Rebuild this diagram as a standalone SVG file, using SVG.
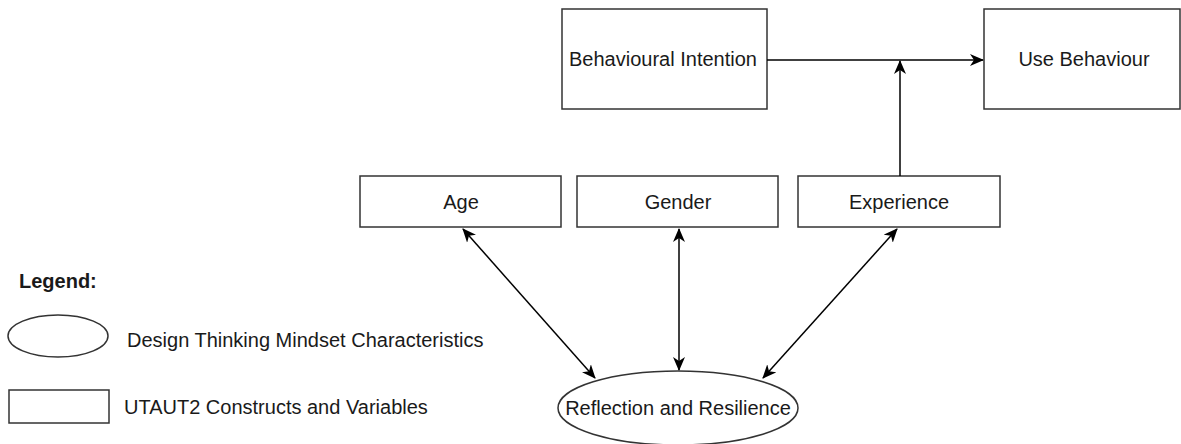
<svg xmlns="http://www.w3.org/2000/svg" width="1181" height="444" viewBox="0 0 1181 444">
<style>
.box{fill:#fff;stroke:#333;stroke-width:1.5}
.t{font-family:"Liberation Sans",Arial,sans-serif;font-size:20px;fill:#1a1a1a;text-anchor:middle;dominant-baseline:central}
.tl{font-family:"Liberation Sans",Arial,sans-serif;font-size:20px;fill:#1a1a1a}
.c{stroke:#000;stroke-width:1.5;fill:none}
</style>
<defs>
<marker id="ah2" viewBox="0 0 14 14" refX="13" refY="7" markerWidth="14" markerHeight="14" markerUnits="userSpaceOnUse" orient="auto-start-reverse">
<path d="M0,1 L14,7 L0,13 L4,7 Z" fill="#000"/>
</marker>
</defs>
<rect width="1181" height="444" fill="#fff"/>
<g id="bi"><rect class="box" x="562" y="9" width="205" height="100"/><text class="t" x="663" y="59">Behavioural Intention</text></g>
<g id="ub"><rect class="box" x="984" y="9" width="196" height="100"/><text class="t" x="1084" y="59">Use Behaviour</text></g>
<g id="age"><rect class="box" x="360" y="176" width="201" height="51"/><text class="t" x="461" y="202">Age</text></g>
<g id="gender"><rect class="box" x="577" y="176" width="201" height="51"/><text class="t" x="678" y="202">Gender</text></g>
<g id="exp"><rect class="box" x="798" y="176" width="202" height="51"/><text class="t" x="899" y="202">Experience</text></g>
<g id="rr"><ellipse class="box" cx="678" cy="408" rx="120" ry="37"/><text class="t" x="678" y="408" font-size="20.5">Reflection and Resilience</text></g>
<g id="connectors">
<line class="c" x1="767" y1="60" x2="983" y2="60" marker-end="url(#ah2)"/>
<line class="c" x1="900" y1="176" x2="900" y2="61" marker-end="url(#ah2)"/>
<line class="c" x1="463" y1="229" x2="595" y2="378" marker-start="url(#ah2)" marker-end="url(#ah2)"/>
<line class="c" x1="679" y1="229" x2="679" y2="370" marker-start="url(#ah2)" marker-end="url(#ah2)"/>
<line class="c" x1="897" y1="229" x2="763" y2="378" marker-start="url(#ah2)" marker-end="url(#ah2)"/>
</g>
<g id="legend">
<text class="tl" x="19" y="288" font-weight="bold" font-size="18.5">Legend:</text>
<ellipse class="box" cx="58" cy="336" rx="50" ry="21"/>
<text class="tl" x="127" y="347">Design Thinking Mindset Characteristics</text>
<rect class="box" x="9" y="390" width="100" height="33"/>
<text class="tl" x="124" y="414">UTAUT2 Constructs and Variables</text>
</g>
</svg>
